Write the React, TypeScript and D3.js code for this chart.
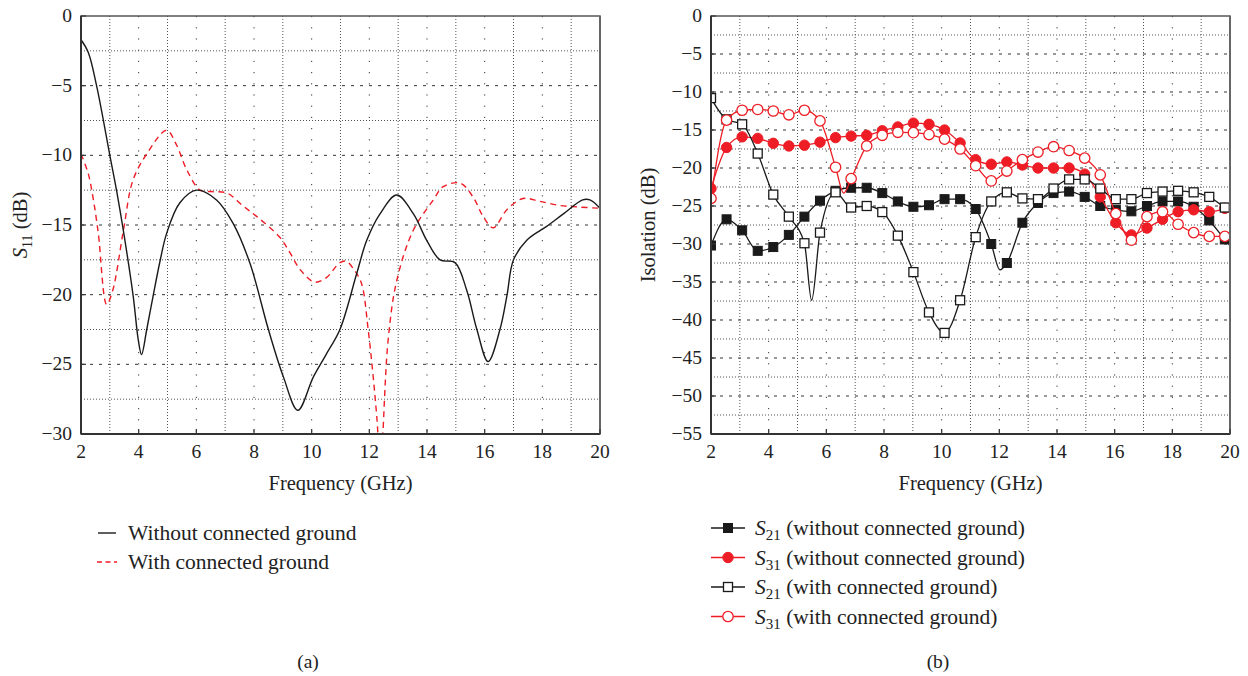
import React from 'react';
import * as d3 from 'd3';

// ---------- tick values ----------
const FREQ_TICKS = [2, 4, 6, 8, 10, 12, 14, 16, 18, 20];
const S11_TICKS = [0, -5, -10, -15, -20, -25, -30];
const ISO_TICKS = [0, -5, -10, -15, -20, -25, -30, -35, -40, -45, -50, -55];

// ---------- panel (a): S11 ----------
const S11_NO_F = [2, 2.25, 2.54, 3.0, 3.24, 3.5, 3.81, 3.99, 4.1, 4.28, 4.51, 4.74, 4.97, 5.43, 6.01, 6.7, 7.28, 7.86, 8.5, 9.02, 9.52, 10.06, 10.5, 10.98, 11.56, 11.91, 12.37, 12.95, 13.53, 13.99, 14.45, 14.97, 15.38, 15.73, 16.12, 16.53, 16.77, 17.0, 17.46, 17.92, 18.15, 18.73, 19.4, 19.65, 20];
const S11_NO_V = [-1.7, -2.6, -5.0, -10.0, -12.6, -15.8, -20.1, -23.3, -24.3, -22.5, -20.0, -17.6, -15.6, -13.4, -12.5, -13.2, -14.9, -17.75, -22.5, -25.9, -28.3, -25.9, -24.3, -22.5, -18.5, -16.1, -14.2, -12.85, -14.2, -16.1, -17.5, -17.7, -19.7, -22.5, -24.8, -22.5, -20.1, -17.5, -16.1, -15.4, -15.1, -14.2, -13.2, -13.2, -13.8];

const S11_GND_F = [2, 2.25, 2.43, 2.6, 2.89, 3.1, 3.47, 3.8, 4.28, 4.97, 5.3, 5.67, 6.13, 6.5, 7.06, 7.6, 8.1, 8.9, 9.25, 9.6, 10.1, 10.5, 10.98, 11.2, 11.5, 11.73, 11.96, 12.26, 12.38, 12.65, 12.95, 13.52, 14.22, 14.56, 15.15, 15.6, 15.95, 16.3, 16.77, 17.33, 17.9, 18.6, 19.2, 20];
const S11_GND_V = [-9.9, -11.3, -13.2, -15.6, -20.7, -19.7, -15.4, -11.8, -9.9, -8.2, -9.2, -11.05, -12.5, -12.6, -12.7, -13.6, -14.4, -15.9, -17.0, -18.2, -19.1, -18.8, -17.7, -17.6, -18.3, -19.2, -22.5, -28.8, -32.5, -23.3, -19.0, -15.4, -13.2, -12.25, -12.0, -13.0, -14.4, -15.2, -13.9, -13.1, -13.3, -13.6, -13.7, -13.8];

// ---------- panel (b): isolation ----------
const MARK_F = [2, 2.54, 3.08, 3.62, 4.16, 4.7, 5.24, 5.78, 6.32, 6.86, 7.4, 7.94, 8.48, 9.02, 9.56, 10.1, 10.64, 11.18, 11.72, 12.26, 12.8, 13.34, 13.88, 14.42, 14.96, 15.5, 16.04, 16.58, 17.12, 17.66, 18.2, 18.74, 19.28, 19.82];

const S21_NO_V = [-30.2, -26.75, -28.2, -30.9, -30.4, -28.8, -26.4, -24.3, -23.0, -22.6, -22.6, -23.3, -24.4, -25.1, -24.9, -24.1, -24.1, -25.4, -30.0, -32.5, -27.2, -24.6, -23.3, -23.1, -23.8, -25.0, -25.5, -25.7, -25.0, -24.4, -24.4, -25.1, -26.9, -29.4];
const S31_NO_V = [-22.7, -17.3, -15.9, -16.1, -16.75, -17.1, -17.0, -16.6, -16.0, -15.8, -15.7, -15.1, -14.6, -14.1, -14.25, -15.0, -16.7, -18.9, -19.5, -19.2, -19.6, -20.0, -20.0, -20.0, -20.8, -23.8, -27.2, -28.8, -27.9, -26.75, -25.75, -25.5, -25.75, -25.3];
const S21_GND_V = [-10.8, -13.6, -14.25, -18.1, -23.5, -26.4, -29.9, -28.5, -23.2, -25.2, -25.0, -25.8, -28.9, -33.7, -39.0, -41.7, -37.4, -29.1, -24.4, -23.2, -24.0, -24.1, -22.7, -21.5, -21.5, -22.7, -24.1, -24.1, -23.3, -23.1, -23.0, -23.2, -23.8, -25.2];
const S31_GND_V = [-24.0, -13.7, -12.4, -12.3, -12.5, -13.0, -12.4, -13.8, -19.9, -21.4, -17.1, -15.7, -15.3, -15.35, -15.6, -16.2, -17.5, -19.7, -21.7, -20.4, -18.9, -17.9, -17.2, -17.7, -18.7, -20.9, -26.0, -29.5, -26.4, -25.75, -27.4, -28.5, -29.0, -29.0];

// extra curve points between markers (resonance dips) and the end value at 20 GHz
const S21_NO_EXTRA: [number, number][] = [[12.02, -33.4], [20, -30.2]];
const S31_NO_EXTRA: [number, number][] = [[20, -25.0]];
const S21_GND_EXTRA: [number, number][] = [[5.49, -37.4], [20, -25.6]];
const S31_GND_EXTRA: [number, number][] = [[6.6, -23.3], [20, -29.0]];

const RED = '#ee1d25';
const BLACK = '#1a1a1a';
const FONT = '"Liberation Serif", "DejaVu Serif", serif';

type Pt = [number, number];
const zip = (f: number[], v: number[]): Pt[] => f.map((x, i) => [x, v[i]] as Pt);
const merge = (a: Pt[], b: Pt[]): Pt[] => [...a, ...b].sort((p, q) => p[0] - q[0]);

const fmt = d3.format('d');

interface PanelProps {
  id: string;
  x0: number; x1: number; y0: number; y1: number;
  yDomain: [number, number];
  yTicks: number[];
  children: (x: d3.ScaleLinear<number, number>, y: d3.ScaleLinear<number, number>) => React.ReactNode;
  yTitle: React.ReactNode;
  yTitleX: number;
}

function Panel({ id, x0, x1, y0, y1, yDomain, yTicks, children, yTitle, yTitleX }: PanelProps) {
  const x = d3.scaleLinear().domain([2, 20]).range([x0, x1]);
  const y = d3.scaleLinear().domain(yDomain).range([y1, y0]);
  const minorF = d3.range(3, 20, 2);
  const minorY = yTicks.slice(0, -1).map((t) => t - 2.5);
  return (
    <g>
      <defs>
        <clipPath id={id}>
          <rect x={x0} y={y0} width={x1 - x0} height={y1 - y0} />
        </clipPath>
      </defs>
      {/* grid */}
      {minorF.map((f) => (
        <line key={'mf' + f} x1={x(f)} x2={x(f)} y1={y0} y2={y1} stroke="#555" strokeWidth={1} strokeDasharray="1 2" />
      ))}
      {FREQ_TICKS.slice(1, -1).map((f) => (
        <line key={'Mf' + f} x1={x(f)} x2={x(f)} y1={y0} y2={y1} stroke="#333" strokeWidth={1} strokeDasharray="1.2 10" />
      ))}
      {minorY.map((v) => (
        <line key={'my' + v} x1={x0} x2={x1} y1={y(v)} y2={y(v)} stroke="#555" strokeWidth={1} strokeDasharray="1 2" />
      ))}
      {yTicks.slice(1, -1).map((v) => (
        <line key={'My' + v} x1={x0} x2={x1} y1={y(v)} y2={y(v)} stroke="#333" strokeWidth={1} strokeDasharray="3 6" />
      ))}
      {/* data */}
      <g clipPath={`url(#${id})`}>{children(x, y)}</g>
      {/* frame */}
      <rect x={x0} y={y0} width={x1 - x0} height={y1 - y0} fill="none" stroke="#555" strokeWidth={1.5} />
      <line x1={x0} x2={x0} y1={y0} y2={y1} stroke="#333" strokeWidth={2} />
      <line x1={x0} x2={x1} y1={y1} y2={y1} stroke="#333" strokeWidth={2} />
      <line x1={x1} x2={x1} y1={y0} y2={y1} stroke="#666" strokeWidth={2} />
      {/* ticks */}
      {FREQ_TICKS.map((f) => (
        <g key={'xt' + f}>
          <line x1={x(f)} x2={x(f)} y1={y1} y2={y1 - 5} stroke="#333" strokeWidth={1.2} />
          <text x={x(f)} y={y1 + 24} textAnchor="middle" fontSize={19.5} fontFamily={FONT} fill="#222">{f}</text>
        </g>
      ))}
      {yTicks.map((v) => (
        <g key={'yt' + v}>
          <line x1={x0} x2={x0 + 5} y1={y(v)} y2={y(v)} stroke="#333" strokeWidth={1.2} />
          <text x={x0 - 9} y={y(v) + 6} textAnchor="end" fontSize={19.5} fontFamily={FONT} fill="#222">{fmt(v)}</text>
        </g>
      ))}
      <text x={(x0 + x1) / 2} y={y1 + 56} textAnchor="middle" fontSize={20.5} fontFamily={FONT} fill="#222">Frequency (GHz)</text>
      <text transform={`translate(${yTitleX},${(y0 + y1) / 2}) rotate(-90)`} textAnchor="middle" fontSize={20.5} fontFamily={FONT} fill="#222">{yTitle}</text>
    </g>
  );
}

type MarkerKind = 'fsq' | 'osq' | 'fci' | 'oci';

function Marker({ kind, cx, cy, color }: { kind: MarkerKind; cx: number; cy: number; color: string }) {
  const s = 9;
  if (kind === 'fsq') return <rect x={cx - s / 2} y={cy - s / 2} width={s} height={s} fill={color} stroke={color} strokeWidth={1} />;
  if (kind === 'osq') return <rect x={cx - s / 2} y={cy - s / 2} width={s} height={s} fill="#fff" stroke={color} strokeWidth={1.3} />;
  if (kind === 'fci') return <circle cx={cx} cy={cy} r={5.2} fill={color} stroke={color} strokeWidth={1} />;
  return <circle cx={cx} cy={cy} r={5.2} fill="#fff" stroke={color} strokeWidth={1.3} />;
}

const SERIES_B: { vals: number[]; extra: Pt[]; kind: MarkerKind; color: string; label: string }[] = [
  { vals: S21_NO_V, extra: S21_NO_EXTRA, kind: 'fsq', color: BLACK, label: '21|(without connected ground)' },
  { vals: S31_NO_V, extra: S31_NO_EXTRA, kind: 'fci', color: RED, label: '31|(without connected ground)' },
  { vals: S21_GND_V, extra: S21_GND_EXTRA, kind: 'osq', color: BLACK, label: '21|(with connected ground)' },
  { vals: S31_GND_V, extra: S31_GND_EXTRA, kind: 'oci', color: RED, label: '31|(with connected ground)' },
];

export default function App() {
  const W = 1248;
  const H = 676;
  return (
    <svg width={W} height={H} style={{ position: 'absolute', left: 0, top: 0, background: '#fff' }} xmlns="http://www.w3.org/2000/svg">
      <rect width={W} height={H} fill="#fff" />
      <Panel
        id="clipA" x0={81} x1={600} y0={16} y1={434} yDomain={[-30, 0]} yTicks={S11_TICKS} yTitleX={27}
        yTitle={<><tspan fontStyle="italic">S</tspan><tspan dy={5} fontSize={14}>11</tspan><tspan dy={-5}> (dB)</tspan></>}
      >
        {(x, y) => {
          const line = d3.line<Pt>().x((d) => x(d[0])).y((d) => y(d[1])).curve(d3.curveCatmullRom.alpha(0.5));
          return (
            <>
              <path d={line(zip(S11_GND_F, S11_GND_V)) || ''} fill="none" stroke={RED} strokeWidth={1.4} strokeDasharray="6 4.5" />
              <path d={line(zip(S11_NO_F, S11_NO_V)) || ''} fill="none" stroke={BLACK} strokeWidth={1.4} />
            </>
          );
        }}
      </Panel>
      <Panel
        id="clipB" x0={711} x1={1230} y0={16} y1={434} yDomain={[-55, 0]} yTicks={ISO_TICKS} yTitleX={655}
        yTitle={<tspan>Isolation (dB)</tspan>}
      >
        {(x, y) => {
          const line = d3.line<Pt>().x((d) => x(d[0])).y((d) => y(d[1])).curve(d3.curveMonotoneX);
          return (
            <>
              {SERIES_B.map((s, si) => (
                <g key={si}>
                  <path d={line(merge(zip(MARK_F, s.vals), s.extra)) || ''} fill="none" stroke={s.color} strokeWidth={1.3} />
                  {MARK_F.map((f, i) => (
                    <Marker key={i} kind={s.kind} cx={x(f)} cy={y(s.vals[i])} color={s.color} />
                  ))}
                </g>
              ))}
            </>
          );
        }}
      </Panel>

      {/* legend (a) */}
      <line x1={98} x2={116} y1={533} y2={533} stroke={BLACK} strokeWidth={1.4} />
      <text x={128} y={540} fontSize={21.5} fontFamily={FONT} fill="#222">Without connected ground</text>
      <line x1={97} x2={117} y1={562} y2={562} stroke={RED} strokeWidth={1.4} strokeDasharray="5 3.5" />
      <text x={128} y={569} fontSize={21.5} fontFamily={FONT} fill="#222">With connected ground</text>

      {/* legend (b) */}
      {SERIES_B.map((s, i) => {
        const cy = 528 + i * 29.5;
        const [sub, rest] = s.label.split('|');
        return (
          <g key={'lg' + i}>
            <line x1={711} x2={745} y1={cy} y2={cy} stroke={s.color} strokeWidth={1.3} />
            <Marker kind={s.kind} cx={728} cy={cy} color={s.color} />
            <text x={755} y={cy + 7} fontSize={21.5} fontFamily={FONT} fill="#222">
              <tspan fontStyle="italic">S</tspan>
              <tspan dy={5} fontSize={15}>{sub}</tspan>
              <tspan dy={-5}> {rest}</tspan>
            </text>
          </g>
        );
      })}

      <text x={308} y={668} textAnchor="middle" fontSize={19.5} fontFamily={FONT} fill="#222">(a)</text>
      <text x={938} y={668} textAnchor="middle" fontSize={19.5} fontFamily={FONT} fill="#222">(b)</text>
    </svg>
  );
}
